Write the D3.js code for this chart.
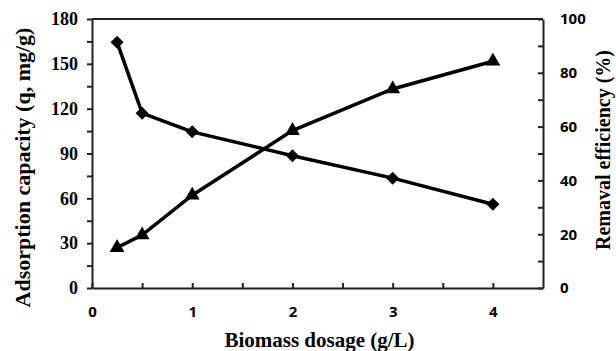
<!DOCTYPE html>
<html>
<head>
<meta charset="utf-8">
<script src="https://cdn.jsdelivr.net/npm/d3@7"></script>
<style>
  body { margin: 0; background: #fff; }
  .serif { font-family: "Liberation Serif", "Times New Roman", serif; font-weight: bold; }
  .sans { font-family: "Open Sans", "Liberation Sans", sans-serif; font-weight: bold; }
</style>
</head>
<body>
<div id="chart"></div>
<script>
// biomass dosage (g/L)
var dosage = [0.25, 0.5, 1, 2, 3, 4];
// adsorption capacity q (mg/g), left axis, diamonds
var capacity = [164.5, 117, 104.5, 88.5, 73.5, 56];
// removal efficiency (%), right axis, triangles
var removal = [15, 19.7, 34.5, 58.5, 74, 84.3];

var leftTicks = [0, 30, 60, 90, 120, 150, 180];
var rightTicks = [0, 20, 40, 60, 80, 100];
var xTicks = [0, 1, 2, 3, 4];

var width = 616, height = 351;
var margin = {top: 19, right: 73, bottom: 63, left: 92};
var plotW = width - margin.left - margin.right;
var plotH = height - margin.top - margin.bottom;

var svg = d3.select('#chart').append('svg')
  .attr('width', width)
  .attr('height', height);

var g = svg.append('g')
  .attr('transform', 'translate(' + margin.left + ',' + margin.top + ')');

var x = d3.scaleLinear().domain([0, 4.5]).range([0, plotW]);
var yLeft = d3.scaleLinear().domain([0, 180]).range([plotH, 0]);
var yRight = d3.scaleLinear().domain([0, 100]).range([plotH, 0]);

var axisColor = '#222';

// minor ticks (no labels)
g.append('g')
  .attr('transform', 'translate(0,' + plotH + ')')
  .call(d3.axisBottom(x).tickValues(d3.range(0.5, 4.5, 1)).tickSize(-5).tickFormat(''))
  .call(function(a){ a.select('.domain').remove(); });
g.append('g')
  .call(d3.axisLeft(yLeft).tickValues(d3.range(15, 180, 30)).tickSize(5).tickFormat(''))
  .call(function(a){ a.select('.domain').remove(); });
g.append('g')
  .attr('transform', 'translate(' + plotW + ',0)')
  .call(d3.axisRight(yRight).tickValues(d3.range(10, 100, 20)).tickSize(-5).tickFormat(''))
  .call(function(a){ a.select('.domain').remove(); });

// major axes
var xAxis = g.append('g')
  .attr('transform', 'translate(0,' + plotH + ')')
  .call(d3.axisBottom(x).tickValues(xTicks).tickFormat(d3.format('d'))
    .tickSize(-5).tickPadding(18).tickSizeOuter(0));
xAxis.selectAll('text').attr('class', 'sans').style('font-size', '15px');

var lAxis = g.append('g')
  .call(d3.axisLeft(yLeft).tickValues(leftTicks).tickSize(5).tickPadding(9).tickSizeOuter(0));
lAxis.selectAll('text').attr('class', 'serif').style('font-size', '18px');

var rAxis = g.append('g')
  .attr('transform', 'translate(' + plotW + ',0)')
  .call(d3.axisRight(yRight).tickValues(rightTicks).tickSize(-5).tickPadding(17).tickSizeOuter(0));
rAxis.selectAll('text').attr('class', 'sans').style('font-size', '15px');

// top border
g.append('line')
  .attr('x1', 0).attr('x2', plotW).attr('y1', 0).attr('y2', 0);

g.selectAll('.domain, .tick line, line')
  .attr('stroke', axisColor)
  .attr('stroke-width', 2);
g.selectAll('.tick text').attr('fill', '#000');

// series lines
var lineLeft = d3.line()
  .x(function(d, i){ return x(dosage[i]); })
  .y(function(d){ return yLeft(d); });
var lineRight = d3.line()
  .x(function(d, i){ return x(dosage[i]); })
  .y(function(d){ return yRight(d); });

g.append('path')
  .attr('d', lineLeft(capacity))
  .attr('fill', 'none')
  .attr('stroke', '#000')
  .attr('stroke-width', 3.5);
g.append('path')
  .attr('d', lineRight(removal))
  .attr('fill', 'none')
  .attr('stroke', '#000')
  .attr('stroke-width', 3.5);

// markers
g.selectAll('.diamond')
  .data(capacity)
  .enter().append('path')
  .attr('class', 'diamond')
  .attr('d', d3.symbol().type(d3.symbolSquare).size(85))
  .attr('transform', function(d, i){
    return 'translate(' + x(dosage[i]) + ',' + yLeft(d) + ') rotate(45)';
  })
  .attr('fill', '#000');

g.selectAll('.tri')
  .data(removal)
  .enter().append('path')
  .attr('class', 'tri')
  .attr('d', d3.symbol().type(d3.symbolTriangle).size(95))
  .attr('transform', function(d, i){
    return 'translate(' + x(dosage[i]) + ',' + yRight(d) + ')';
  })
  .attr('fill', '#000');

// axis titles
svg.append('text')
  .attr('class', 'serif')
  .attr('x', margin.left + plotW / 2 + 2)
  .attr('y', 347)
  .attr('text-anchor', 'middle')
  .style('font-size', '21px')
  .text('Biomass dosage (g/L)');

svg.append('text')
  .attr('class', 'serif')
  .attr('transform', 'translate(30,' + (margin.top + plotH / 2 + 14) + ') rotate(-90)')
  .attr('text-anchor', 'middle')
  .style('font-size', '22px')
  .text('Adsorption capacity (q, mg/g)');

svg.append('text')
  .attr('class', 'serif')
  .attr('transform', 'translate(610,150) rotate(-90)')
  .attr('text-anchor', 'middle')
  .style('font-size', '20px')
  .text('Remaval efficiency (%)');
</script>
</body>
</html>
